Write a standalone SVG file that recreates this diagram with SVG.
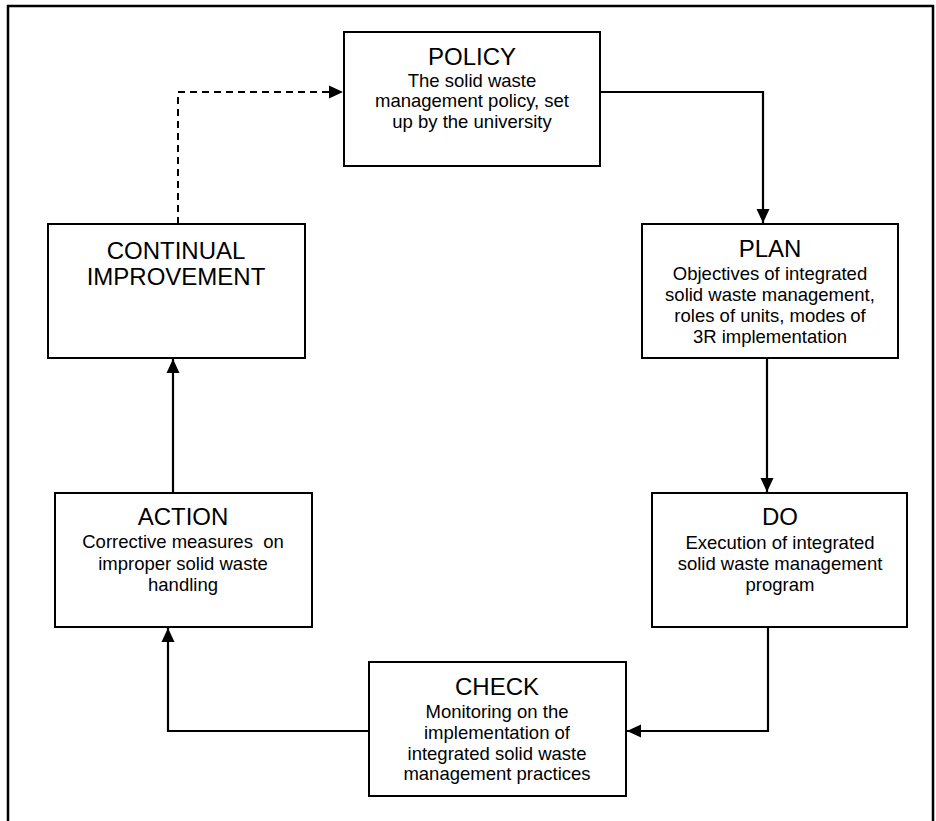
<svg xmlns="http://www.w3.org/2000/svg" width="936" height="821" viewBox="0 0 936 821">
<defs>
<style>
.box{fill:#fff;stroke:#000;stroke-width:2}
.t{font-family:"Liberation Sans",Arial,sans-serif;font-size:24px;fill:#000;text-anchor:middle}
.b{font-family:"Liberation Sans",Arial,sans-serif;font-size:18.5px;fill:#000;text-anchor:middle}
.c{fill:none;stroke:#000;stroke-width:2.2}
.d{fill:none;stroke:#000;stroke-width:2;stroke-dasharray:7,5}
</style>
<marker id="ah" viewBox="0 0 14 14" refX="14" refY="7" markerWidth="14" markerHeight="14" markerUnits="userSpaceOnUse" orient="auto">
<path d="M0,0.5 L14,7 L0,13.5 z" fill="#000"/>
</marker>
</defs>
<rect x="0" y="0" width="936" height="821" fill="#fff"/>
<path d="M8,830 V6 H933 V830" fill="none" stroke="#000" stroke-width="2.5"/>
<g id="connectors">
<path class="c" d="M600,92 H763 V223" marker-end="url(#ah)"/>
<path class="c" d="M767,358 V492" marker-end="url(#ah)"/>
<path class="c" d="M768,627 V731 H627" marker-end="url(#ah)"/>
<path class="c" d="M369,731 H168 V628" marker-end="url(#ah)"/>
<path class="c" d="M173,493 V359" marker-end="url(#ah)"/>
<path class="d" d="M178,224 V92 H343" marker-end="url(#ah)"/>
</g>
<g id="policy">
<rect class="box" x="344" y="32" width="256" height="134"/>
<text class="t" x="472" y="65">POLICY</text>
<text class="b" x="472" y="87">The solid waste</text>
<text class="b" x="472" y="107">management policy, set</text>
<text class="b" x="472" y="128">up by the university</text>
</g>
<g id="plan">
<rect class="box" x="642" y="224" width="256" height="134"/>
<text class="t" x="770" y="257">PLAN</text>
<text class="b" x="770" y="280">Objectives of integrated</text>
<text class="b" x="770" y="301">solid waste management,</text>
<text class="b" x="770" y="322">roles of units, modes of</text>
<text class="b" x="770" y="343">3R implementation</text>
</g>
<g id="do">
<rect class="box" x="652" y="493" width="255" height="134"/>
<text class="t" x="780" y="525">DO</text>
<text class="b" x="780" y="549">Execution of integrated</text>
<text class="b" x="780" y="570">solid waste management</text>
<text class="b" x="780" y="591">program</text>
</g>
<g id="check">
<rect class="box" x="369" y="662" width="257" height="134"/>
<text class="t" x="497" y="695">CHECK</text>
<text class="b" x="497" y="718">Monitoring on the</text>
<text class="b" x="497" y="739">implementation of</text>
<text class="b" x="497" y="760">integrated solid waste</text>
<text class="b" x="497" y="780">management practices</text>
</g>
<g id="action">
<rect class="box" x="55" y="493" width="257" height="134"/>
<text class="t" x="183" y="525">ACTION</text>
<text class="b" x="183" y="548" xml:space="preserve">Corrective measures  on</text>
<text class="b" x="183" y="570">improper solid waste</text>
<text class="b" x="183" y="591">handling</text>
</g>
<g id="continual">
<rect class="box" x="48" y="224" width="257" height="134"/>
<text class="t" x="176" y="259">CONTINUAL</text>
<text class="t" x="176" y="285">IMPROVEMENT</text>
</g>
</svg>
